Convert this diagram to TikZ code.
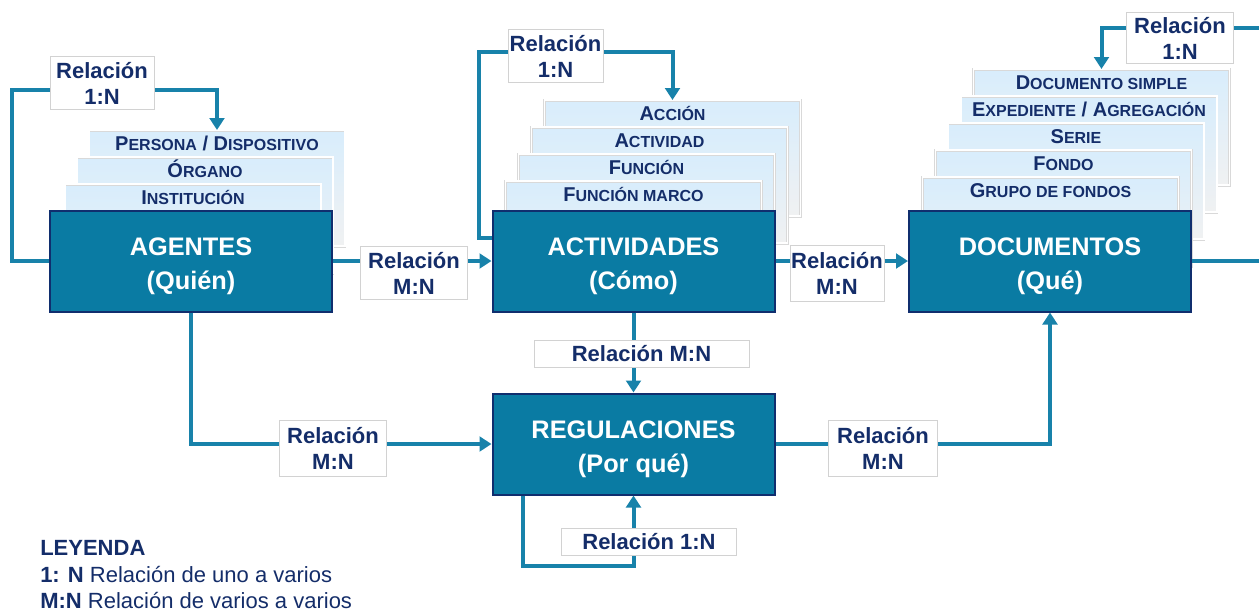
\documentclass[tikz,border=0pt]{standalone}
\usepackage{fontspec}
\setmainfont{Liberation Sans}
\usetikzlibrary{arrows.meta,calc,positioning}

\definecolor{boxteal}{RGB}{10,123,163}
\definecolor{boxnavy}{RGB}{16,46,110}
\definecolor{lineteal}{RGB}{24,130,170}
\definecolor{textnavy}{RGB}{20,45,105}
\definecolor{cardtop}{RGB}{216,237,252}
\definecolor{cardbottom}{RGB}{240,241,242}

\newcommand\smc[1]{{\fontsize{12}{12}\selectfont #1}}
\newcommand\tstrut{\rule{0pt}{21pt}}

\begin{document}
\begin{tikzpicture}[x=0.75pt,y=-0.75pt]
  \tikzset{entity/.style={draw=boxnavy, line width=1.5pt, fill=boxteal, text=white,
      font=\fontsize{19}{26}\selectfont\bfseries, align=center,
      minimum width=211.5pt, minimum height=75.75pt, inner sep=0pt},
    card/.style={anchor=north, draw=gray!30, double=white, double distance=1.2pt,
      top color=cardtop, bottom color=cardbottom, text=textnavy,
      font=\fontsize{15}{15}\selectfont\bfseries, minimum width=192pt,
      inner xsep=0pt, inner ysep=4pt, text height=11pt, text depth=68pt},
    rel/.style={draw=gray!35, fill=white, text=textnavy,
      font=\fontsize{16.5}{19.5}\selectfont\bfseries, align=center,
      inner sep=1pt, minimum width=80pt, minimum height=40pt},
    relwide/.style={rel, minimum height=20pt},
    conn/.style={draw=lineteal, line width=3pt, -{Triangle[width=11pt,length=9pt]}},
    legend/.style={text=textnavy, font=\fontsize{16.5}{16.5}\selectfont, inner sep=0pt}
  }
  \useasboundingbox (0,0) rectangle (1259,612);

  % stacks of cards
  \node[card] (persona) at (217,130) {P\smc{ERSONA} / D\smc{ISPOSITIVO}};
  \node[card] (organo) at (205,157) {Ó\smc{RGANO}};
  \node[card] (institucion) at (193,184) {I\smc{NSTITUCIÓN}};

  \node[card] (accion) at (672.5,100) {A\smc{CCIÓN}};
  \node[card] (actividad) at (659.5,127) {A\smc{CTIVIDAD}};
  \node[card] (funcion) at (646.5,154) {F\smc{UNCIÓN}};
  \node[card] (marco) at (633.5,181) {F\smc{UNCIÓN MARCO}};

  \node[card] (simple) at (1101.5,69) {D\smc{OCUMENTO SIMPLE}};
  \node[card] (expediente) at (1089,96) {E\smc{XPEDIENTE} / A\smc{GREGACIÓN}};
  \node[card] (serie) at (1076,123) {S\smc{ERIE}};
  \node[card] (fondo) at (1063.5,150) {F\smc{ONDO}};
  \node[card] (grupo) at (1050.5,177) {G\smc{RUPO DE FONDOS}};

  % main entities
  \node[entity] (agentes) at (191,261) {\tstrut AGENTES\\(Quién)};
  \node[entity] (actividades) at (633.5,261) {\tstrut ACTIVIDADES\\(Cómo)};
  \node[entity] (documentos) at (1050,261) {\tstrut DOCUMENTOS\\(Qué)};
  \node[entity] (regulaciones) at (633.5,444) {\tstrut REGULACIONES\\(Por qué)};

  % connectors
  \draw[conn] (agentes.west) -- ++(-37,0) |- ($(persona.north)+(0,-40)$) -- (persona.north);
  \draw[conn] ($(actividades.north west)+(0,28)$) -- ++(-13,0) |- ($(accion.north)+(0,-48)$) -- (accion.north);
  \draw[conn] (documentos.east) -- ++(85,0) |- ($(simple.north)+(0,-41)$) -- (simple.north);
  \draw[conn] ($(regulaciones.south west)+(31,0)$) -- ++(0,70) -| (regulaciones.south);

  \draw[conn] (agentes.east) -- (actividades.west);
  \draw[conn] (actividades.east) -- (documentos.west);
  \draw[conn] (actividades.south) -- (regulaciones.north);
  \draw[conn] (agentes.south) |- (regulaciones.west);
  \draw[conn] (regulaciones.east) -| (documentos.south);

  % relation labels
  \node[rel, minimum width=78pt] (r1) at (102,83) {Relación\\1:N};
  \node[rel] (r2) at (414,273) {Relación\\M:N};
  \node[rel, minimum width=70.5pt, minimum height=42pt] (r3) at (837,273) {Relación\\M:N};
  \node[rel, minimum width=71pt] (r4) at (555.5,56) {Relación\\1:N};
  \node[rel, minimum height=38pt] (r5) at (1180,38) {Relación\\1:N};
  \node[relwide, minimum width=161pt] (r6) at (641.5,354) {Relación M:N};
  \node[relwide, minimum width=131pt] (r7) at (649,542) {Relación 1:N};
  \node[rel, minimum height=42pt] (r8) at (333,448) {Relación\\M:N};
  \node[rel, minimum width=82pt, minimum height=42pt] (r9) at (883,448) {Relación\\M:N};

  % legend
  \node[legend, anchor=west, font=\fontsize{16.5}{16.5}\selectfont\bfseries] (leyenda) at (40,548) {LEYENDA};
  \node[legend, below=19.5pt of leyenda.west, anchor=west] (uno) {\textbf{1: N} Relación de uno a varios};
  \node[legend, below=19.5pt of uno.west, anchor=west] (varios) {\textbf{M:N} Relación de varios a varios};
\end{tikzpicture}
\end{document}
